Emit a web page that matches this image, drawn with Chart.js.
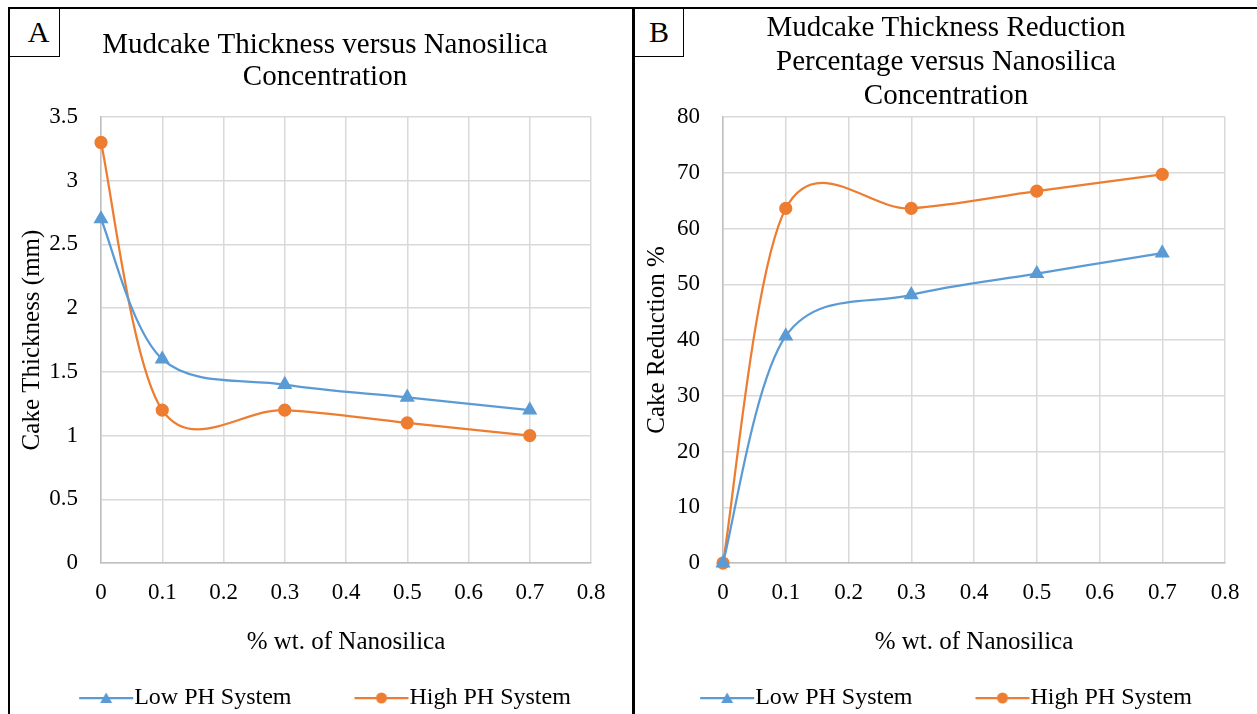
<!DOCTYPE html>
<html>
<head>
<meta charset="utf-8">
<script src="https://cdn.jsdelivr.net/npm/chart.js@4.4.1/dist/chart.umd.min.js"></script>
<style>
  html, body { margin: 0; padding: 0; background: #fff; overflow: hidden; }
  body { width: 1257px; height: 714px; position: relative; font-family: "Liberation Serif", serif; }
  .panel { position: absolute; top: 7px; height: 720px; box-sizing: border-box; border-top: 2px solid #000; border-left: 2px solid #000; }
  .tag { position: absolute; top: 7px; height: 50px; box-sizing: border-box;
         border: 2px solid #000; border-right-width: 1.5px; border-bottom-width: 1.5px;
         font-size: 30px; line-height: 46px; text-align: center; color: #000; }
  canvas { position: absolute; top: 0; }
</style>
</head>
<body>
<div class="panel" style="left:8px; width:626px;"></div>
<div class="panel" style="left:632px; width:640px; border-left-width:3px;"></div>
<div class="tag" style="left:8px; width:52px; padding-left:8px;">A</div>
<div class="tag" style="left:632px; width:52px; border-left-width:3px;">B</div>
<canvas id="chartA" width="630" height="720" style="left:10px;"></canvas>
<canvas id="chartB" width="620" height="720" style="left:636px;"></canvas>
<script>
// nanosilica concentration (% wt.)
const nanoX = [0, 0.1, 0.3, 0.5, 0.7];
// A: cake thickness (mm)
const thickLow = [2.7, 1.6, 1.4, 1.3, 1.2];
const thickHigh = [3.3, 1.2, 1.2, 1.1, 1.0];
// B: thickness reduction (%)
const reducLow = [0, 40.7, 48.1, 51.9, 55.6];
const reducHigh = [0, 63.6, 63.6, 66.7, 69.7];
// tick labels
const xTickLabels = ['0', '0.1', '0.2', '0.3', '0.4', '0.5', '0.6', '0.7', '0.8'];
const yTickLabelsA = ['0', '0.5', '1', '1.5', '2', '2.5', '3', '3.5'];
const yTickLabelsB = ['0', '10', '20', '30', '40', '50', '60', '70', '80'];

const BLUE = '#5b9bd5';
const ORANGE = '#ed7d31';
const SERIF = '"Liberation Serif", "Times New Roman", serif';

// Excel-style smoothing: plain Catmull-Rom control points (tangent / 6)
const excelSmooth = {
  id: 'excelSmooth',
  beforeDatasetDraw(chart, args) {
    const meta = args.meta;
    meta.dataset.updateControlPoints(chart.chartArea, 'x');
    const pts = meta.data;
    pts.forEach((p, i) => {
      const a = pts[i - 1] || p;
      const b = pts[i + 1] || p;
      const dx = (b.x - a.x) / 6;
      const dy = (b.y - a.y) / 6;
      p.cp1x = p.x - dx; p.cp1y = p.y - dy;
      p.cp2x = p.x + dx; p.cp2y = p.y + dy;
    });
  }
};

// legend symbol: short line with the marker in the middle
function legendSymbol(color, style) {
  const c = document.createElement('canvas');
  c.width = 67; c.height = 14;
  const g = c.getContext('2d');
  g.strokeStyle = color; g.lineWidth = 2.25;
  g.beginPath(); g.moveTo(12, 7); g.lineTo(66, 7); g.stroke();
  g.fillStyle = color;
  g.beginPath();
  if (style === 'triangle') {
    g.moveTo(39, 1.5); g.lineTo(45, 12); g.lineTo(33, 12); g.closePath();
  } else {
    g.arc(39, 7, 5.5, 0, Math.PI * 2);
  }
  g.fill();
  return c;
}
const symLow = legendSymbol(BLUE, 'triangle');
const symHigh = legendSymbol(ORANGE, 'circle');

function toXY(xs, ys) {
  return xs.map((x, i) => ({ x: x, y: ys[i] }));
}

function makeChart(id, cfg) {
  return new Chart(document.getElementById(id).getContext('2d'), {
    type: 'line',
    data: {
      datasets: [{
        label: 'Low PH System',
        data: toXY(nanoX, cfg.low),
        borderColor: BLUE,
        backgroundColor: BLUE,
        borderWidth: 2.25,
        pointStyle: 'triangle',
        pointRadius: 6.5,
        tension: 0.4,
        clip: false,
      }, {
        label: 'High PH System',
        data: toXY(nanoX, cfg.high),
        borderColor: ORANGE,
        backgroundColor: ORANGE,
        borderWidth: 2.25,
        pointStyle: 'circle',
        pointRadius: 5.5,
        tension: 0.4,
        clip: false,
      }]
    },
    plugins: [excelSmooth],
    options: {
      responsive: false,
      animation: false,
      layout: { padding: 0 },
      scales: {
        x: {
          type: 'linear',
          min: 0,
          max: 0.8,
          ticks: {
            stepSize: 0.1,
            padding: 16,
            color: '#000',
            font: { family: SERIF, size: 23 },
            callback: (v, i) => xTickLabels[i],
          },
          grid: { color: '#d9d9d9', lineWidth: 1.5, drawTicks: false },
          border: { color: '#bfbfbf', width: 1.5 },
          title: {
            display: true,
            text: '% wt. of Nanosilica',
            color: '#000',
            font: { family: SERIF, size: 25, lineHeight: 1.2 },
            padding: { top: 0, bottom: cfg.xTitlePad },
          },
          afterFit: (s) => { s.height = cfg.xHeight; },
        },
        y: {
          min: 0,
          max: cfg.yMax,
          ticks: {
            stepSize: cfg.yStep,
            padding: 23,
            color: '#000',
            font: { family: SERIF, size: 23 },
            callback: (v, i) => cfg.yTicks[i],
          },
          grid: { color: '#d9d9d9', lineWidth: 1.5, drawTicks: false },
          border: { color: '#bfbfbf', width: 1.5 },
          title: {
            display: true,
            text: cfg.yTitle,
            color: '#000',
            font: { family: SERIF, size: 25, lineHeight: 1.2 },
            padding: { top: cfg.yTitlePad, bottom: 0 },
          },
          afterFit: (s) => { s.width = cfg.yWidth; },
        },
        spare: {
          position: 'right',
          display: true,
          ticks: { display: false },
          grid: { display: false },
          border: { display: false },
          afterFit: (s) => { s.width = cfg.rightWidth; },
        }
      },
      plugins: {
        title: {
          display: true,
          text: cfg.title,
          color: '#000',
          font: { family: SERIF, size: 29, weight: 'normal', lineHeight: cfg.titleLine / 29 },
          padding: { top: cfg.titleTop, bottom: cfg.titleBottom },
        },
        legend: {
          position: 'bottom',
          labels: {
            usePointStyle: true,
            pointStyleWidth: 43,
            padding: 63,
            color: '#000',
            font: { family: SERIF, size: 24 },
            generateLabels: (chart) => chart.data.datasets.map((ds, i) => ({
              text: ds.label,
              pointStyle: i === 0 ? symLow : symHigh,
              fillStyle: ds.borderColor,
              strokeStyle: ds.borderColor,
              lineWidth: 0,
              hidden: false,
              datasetIndex: i,
            })),
          }
        },
        tooltip: { enabled: false }
      }
    }
  });
}

const chartA = makeChart('chartA', {
  low: thickLow,
  high: thickHigh,
  yMax: 3.5,
  yStep: 0.5,
  yTicks: yTickLabelsA,
  yTitle: 'Cake Thickness (mm)',
  yTitlePad: 7,
  yWidth: 91,
  rightWidth: 49,
  xHeight: 60,
  xTitlePad: -34,
  title: ['Mudcake Thickness versus Nanosilica', 'Concentration'],
  titleLine: 32.5,
  titleTop: 28.75,
  titleBottom: 23.25,
});

const chartB = makeChart('chartB', {
  low: reducLow,
  high: reducHigh,
  yMax: 80,
  yStep: 10,
  yTicks: yTickLabelsB,
  yTitle: 'Cake Reduction %',
  yTitlePad: 6,
  yWidth: 87,
  rightWidth: 31,
  xHeight: 60,
  xTitlePad: -34,
  title: ['Mudcake Thickness Reduction', 'Percentage versus Nanosilica', 'Concentration'],
  titleLine: 34,
  titleTop: 11,
  titleBottom: 4,
});
</script>
</body>
</html>
